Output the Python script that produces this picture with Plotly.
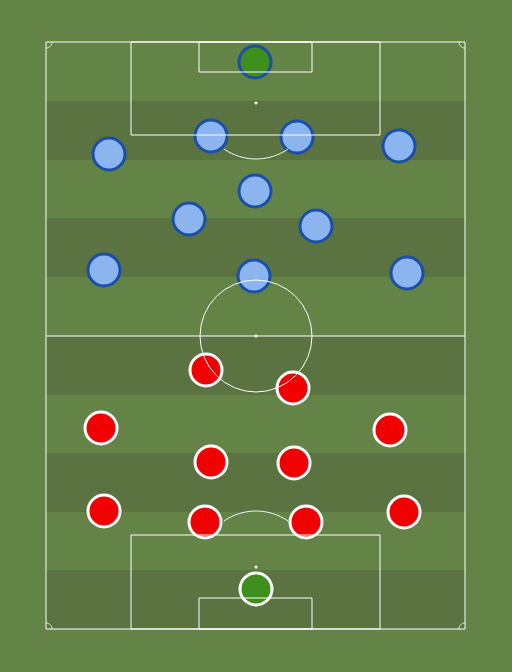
import plotly.graph_objects as go
import numpy as np

blue_x = [255, 211, 297, 109, 399, 255, 189, 316, 104, 254, 407]
blue_y = [62, 136, 137, 154, 146, 191, 219, 226, 270, 276, 273]
blue_gk = [True] + [False]*10
red_x = [206, 293, 101, 390, 211, 294, 104, 205, 306, 404, 256]
red_y = [370, 388, 428, 430, 462, 463, 511, 522, 522, 512, 589]
red_gk = [False]*10 + [True]
stripe_tops = [101, 218, 336, 453, 570]

L, R, T, B = 46, 465, 42, 629
fig = go.Figure()
shapes = []
for t in stripe_tops:
    shapes.append(dict(type="rect", x0=L, x1=R, y0=t, y1=min(t+59, B), fillcolor="#5a7340", line_width=0, layer="below"))
wl = dict(color="white", width=1)
shapes += [
    dict(type="rect", x0=L, x1=R, y0=T, y1=B, line=wl),
    dict(type="line", x0=L, x1=R, y0=336, y1=336, line=wl),
    dict(type="circle", x0=200, x1=312, y0=280, y1=392, line=wl),
    dict(type="rect", x0=131, x1=380, y0=T, y1=135, line=wl),
    dict(type="rect", x0=199, x1=312, y0=T, y1=72, line=wl),
    dict(type="rect", x0=131, x1=380, y0=535, y1=B, line=wl),
    dict(type="rect", x0=199, x1=312, y0=598, y1=B, line=wl),
]
def arc(cx, cy, r, a0, a1):
    a = np.linspace(a0, a1, 40)
    pts = [(cx + r*np.cos(t), cy + r*np.sin(t)) for t in a]
    return "M " + " L ".join(f"{x:.1f},{y:.1f}" for x, y in pts)
shapes.append(dict(type="path", path=arc(256, 103, 56, np.radians(55), np.radians(125)), line=wl))
shapes.append(dict(type="path", path=arc(256, 567, 56, np.radians(235), np.radians(305)), line=wl))
for cx, cy, a0 in [(L, T, 0), (R, T, 90), (R, B, 180), (L, B, 270)]:
    shapes.append(dict(type="path", path=arc(cx, cy, 6, np.radians(a0), np.radians(a0+90)), line=wl))
for cy in [103, 336, 567]:
    shapes.append(dict(type="circle", x0=254.5, x1=257.5, y0=cy-1.5, y1=cy+1.5, fillcolor="white", line_width=0))

fig.add_trace(go.Scatter(x=blue_x, y=blue_y, mode="markers", marker=dict(size=32,
    color=["#3f8f1f" if g else "#8cb4ef" for g in blue_gk], line=dict(color="#1a4fa8", width=3)), hoverinfo="skip"))
fig.add_trace(go.Scatter(x=red_x, y=red_y, mode="markers", marker=dict(size=32,
    color=["#3f8f1f" if g else "#f00000" for g in red_gk], line=dict(color="white", width=3)), hoverinfo="skip"))

fig.update_layout(width=512, height=672, margin=dict(l=0, r=0, t=0, b=0), showlegend=False,
    paper_bgcolor="#648447", plot_bgcolor="#648447", shapes=shapes,
    xaxis=dict(range=[0, 512], visible=False, fixedrange=True),
    yaxis=dict(range=[672, 0], visible=False, fixedrange=True))
fig.write_html("out.html", config={"displayModeBar": False},
    post_script="document.body.style.margin='0';document.body.style.background='#648447';document.body.style.overflow='hidden';")
